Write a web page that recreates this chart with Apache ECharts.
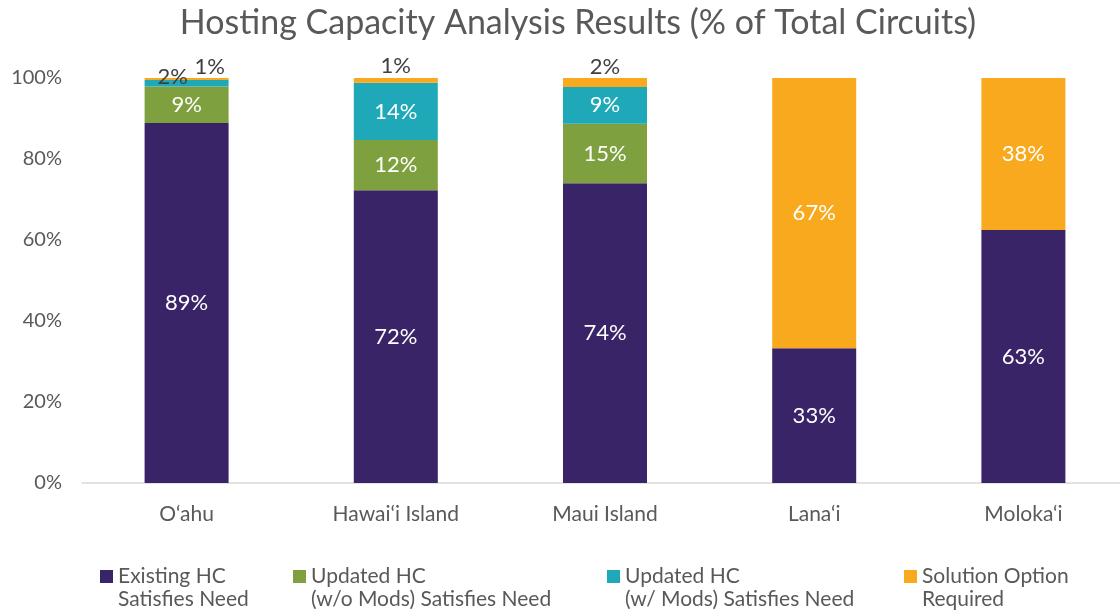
<!DOCTYPE html>
<html>
<head>
<meta charset="utf-8">
<title>Hosting Capacity Analysis Results</title>
<script src="https://cdn.jsdelivr.net/npm/echarts@6/dist/echarts.min.js"></script>
<style>
  html, body { margin: 0; padding: 0; background: #ffffff; }
  #chart { width: 1120px; height: 611px; }
</style>
</head>
<body>
<div id="chart"></div>
<script>
// Share of total circuits per island, by hosting capacity outcome (%)
const categories = ['O‘ahu', 'Hawai‘i Island', 'Maui Island', 'Lana‘i', 'Moloka‘i'];
const existingHC = [88.9, 72.3, 74.0, 33.3, 62.5];
const updatedNoMods = [9.0, 12.4, 14.7, 0, 0];
const updatedWithMods = [1.6, 14.1, 9.1, 0, 0];
const solutionRequired = [0.5, 1.2, 2.2, 66.7, 37.5];
const yTicks = [0, 20, 40, 60, 80, 100];

const seriesNames = [
  'Existing HC\nSatisfies Need',
  'Updated HC\n(w/o Mods) Satisfies Need',
  'Updated HC\n(w/ Mods) Satisfies Need',
  'Solution Option\nRequired'
];
const seriesColors = ['#3a2468', '#7fa03f', '#1ea8b8', '#f9a91d'];
const seriesValues = [existingHC, updatedNoMods, updatedWithMods, solutionRequired];

const FONT = 'Lato, "Open Sans", sans-serif';

// thin slices get their label placed above the bar in dark text
const outsideLabels = {
  2: { 0: [-14, 13] },
  3: { 0: [23, 5], 1: [0, 4], 2: [0, 5] }
};

function pctLabel(p) {
  return p.value ? Math.round(p.value) + '%' : '';
}

const series = seriesValues.map((vals, si) => ({
  name: seriesNames[si],
  type: 'bar',
  stack: 'total',
  barWidth: 84,
  itemStyle: { color: seriesColors[si] },
  label: {
    show: true,
    position: 'inside',
    color: '#ffffff',
    fontFamily: FONT,
    fontSize: 22,
    formatter: pctLabel
  },
  data: vals.map((v, ci) => {
    const off = outsideLabels[si] && outsideLabels[si][ci];
    if (!off) return v;
    return {
      value: v,
      label: { position: 'top', color: '#404040', offset: off, distance: 5 }
    };
  })
}));

// one legend per entry so each sits in its own column;
// a blank leading line keeps the swatch level with the first text line
const legendLefts = [95, 288, 602, 899];
const legends = seriesNames.map((n, i) => ({
  data: [n],
  left: legendLefts[i],
  top: 537,
  icon: 'rect',
  itemWidth: 13,
  itemHeight: 13,
  selectedMode: false,
  formatter: name => '\n' + name,
  textStyle: {
    color: '#595959',
    fontFamily: FONT,
    fontSize: 21,
    lineHeight: 23
  }
}));

const chart = echarts.init(document.getElementById('chart'), null, { renderer: 'canvas' });
chart.setOption({
  backgroundColor: '#ffffff',
  animation: false,
  title: {
    text: 'Hosting Capacity Analysis Results (% of Total Circuits)',
    left: 573,
    textAlign: 'center',
    top: 1,
    textStyle: { color: '#595959', fontFamily: FONT, fontSize: 34, fontWeight: 'normal' }
  },
  legend: legends,
  // the last category band runs a little past the right edge
  grid: { left: 82, width: 1046, top: 78, bottom: 128, containLabel: false, outerBoundsMode: 'none' },
  xAxis: {
    type: 'category',
    data: categories,
    axisLine: { lineStyle: { color: '#d9d9d9', width: 1.5 } },
    axisTick: { show: false },
    axisLabel: { color: '#595959', fontFamily: FONT, fontSize: 21, margin: 21 }
  },
  yAxis: {
    type: 'value',
    min: yTicks[0],
    max: yTicks[yTicks.length - 1],
    interval: yTicks[1] - yTicks[0],
    axisLine: { show: false },
    axisTick: { show: false },
    splitLine: { show: false },
    axisLabel: { color: '#595959', fontFamily: FONT, fontSize: 20, margin: 20, formatter: '{value}%' }
  },
  series: series
});
</script>
</body>
</html>
